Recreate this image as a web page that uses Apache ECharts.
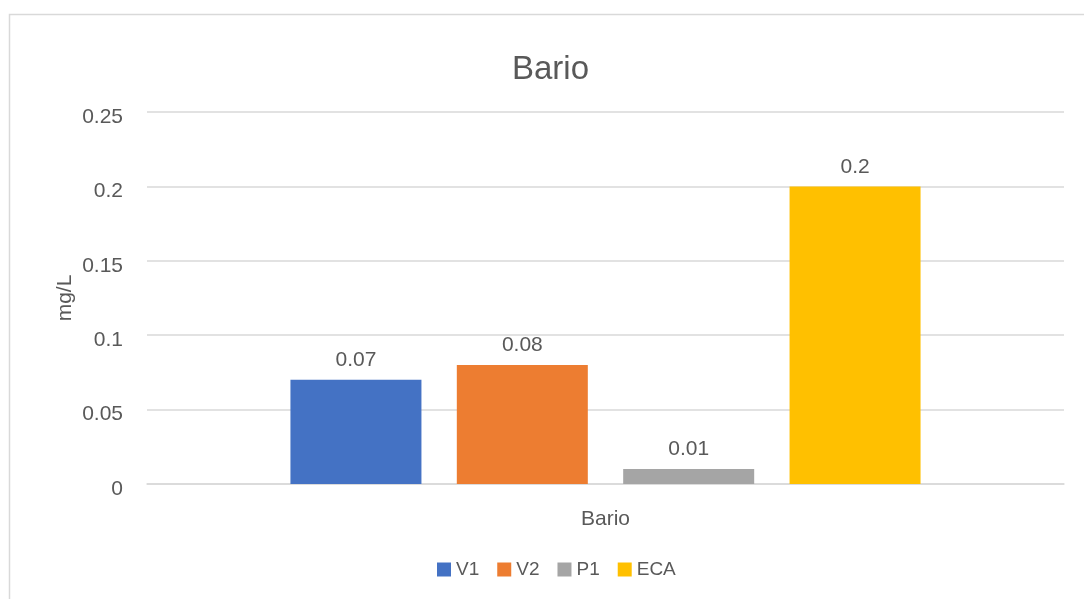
<!DOCTYPE html>
<html>
<head>
<meta charset="utf-8">
<script src="https://cdn.jsdelivr.net/npm/echarts@6/dist/echarts.min.js"></script>
<style>
  html, body { margin: 0; padding: 0; background: #fff; }
  #chart { width: 1084px; height: 599px; }
</style>
</head>
<body>
<div id="chart"></div>
<script>
// Bario — barras agrupadas por muestra
const categories = ['Bario'];
const seriesNames = ['V1', 'V2', 'P1', 'ECA'];
const seriesValues = [0.07, 0.08, 0.01, 0.2];
const colors = ['#4472C4', '#ED7D31', '#A5A5A5', '#FFC000'];
const yTicks = { min: 0, max: 0.25, interval: 0.05 };

const font = 'Liberation Sans, Arial, sans-serif';
const textColor = '#595959';

const chart = echarts.init(document.getElementById('chart'));
chart.setOption({
  animation: false,
  textStyle: { fontFamily: font },
  graphic: [{
    type: 'rect',
    left: 7, top: 12,
    shape: { width: 1090, height: 600 },
    style: { fill: 'none', stroke: '#d9d9d9', lineWidth: 1.5 },
    silent: true,
  }],
  title: {
    text: 'Bario',
    left: 507,
    top: 48,
    textStyle: { fontSize: 33, fontWeight: 'normal', color: textColor, fontFamily: font },
  },
  legend: {
    bottom: 15,
    left: 432,
    icon: 'rect',
    itemWidth: 14,
    itemHeight: 14,
    itemGap: 18,
    textStyle: { fontSize: 19, color: textColor, fontFamily: font },
    data: seriesNames,
  },
  grid: { left: 147, right: 20, top: 112, bottom: 115, containLabel: false },
  xAxis: {
    type: 'category',
    data: categories,
    axisLine: { lineStyle: { color: '#d9d9d9', width: 1.5 } },
    axisTick: { show: false },
    axisLabel: { fontSize: 21, color: textColor, margin: 25 },
  },
  yAxis: {
    type: 'value',
    min: yTicks.min,
    max: yTicks.max,
    interval: yTicks.interval,
    name: 'mg/L',
    nameLocation: 'middle',
    nameGap: 71,
    nameMoveOverlap: false,
    nameRotate: 90,
    nameTextStyle: { fontSize: 21, color: textColor },
    axisLine: { show: false },
    axisTick: { show: false },
    axisLabel: { fontSize: 21, color: textColor, margin: 24, verticalAlign: 'top', lineHeight: 10 },
    splitLine: { lineStyle: { color: '#d9d9d9', width: 1.5 } },
  },
  series: seriesNames.map((name, i) => ({
    name,
    type: 'bar',
    data: [seriesValues[i]],
    barWidth: 131,
    barGap: '27%',
    itemStyle: { color: colors[i] },
    label: {
      show: true,
      position: 'top',
      distance: 9,
      fontSize: 21,
      color: textColor,
    },
  })),
});
</script>
</body>
</html>
